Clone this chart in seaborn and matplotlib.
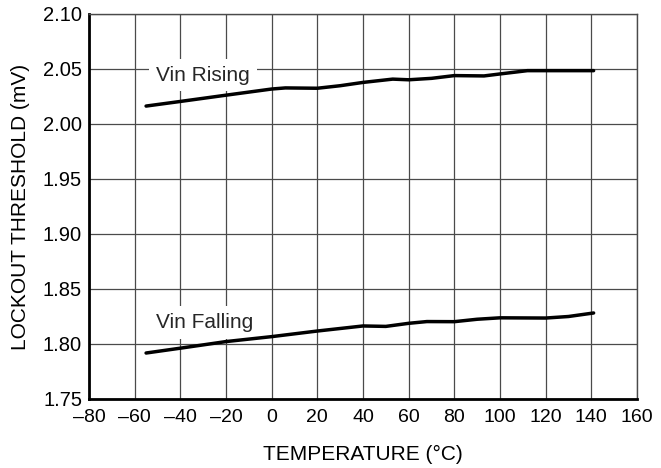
import matplotlib
matplotlib.use("Agg")
import matplotlib.pyplot as plt
import seaborn as sns
import pandas as pd

rising_temp = [-55, -40, -20, 0, 6, 20, 30, 40, 53, 60, 70, 80, 93, 100, 112, 125, 141]
rising_val = [2.0163, 2.0205, 2.0262, 2.0318, 2.0328, 2.0325, 2.0348, 2.0378, 2.0408, 2.0402, 2.0415, 2.0440, 2.0437, 2.0455, 2.0485, 2.0485, 2.0485]

falling_temp = [-55, -40, -20, 0, 20, 40, 50, 60, 68, 80, 90, 100, 120, 130, 141]
falling_val = [1.7918, 1.7962, 1.8022, 1.8067, 1.8118, 1.8164, 1.8160, 1.8188, 1.8204, 1.8203, 1.8225, 1.8238, 1.8236, 1.8250, 1.8282]

x_ticks = [-80, -60, -40, -20, 0, 20, 40, 60, 80, 100, 120, 140, 160]
y_ticks = [1.75, 1.80, 1.85, 1.90, 1.95, 2.00, 2.05, 2.10]

sns.set_theme(style="white")
plt.rcParams['font.family'] = ['Liberation Sans', 'DejaVu Sans']

fig = plt.figure(figsize=(6.61, 4.68), dpi=100)
ax = fig.add_axes([89/661, 1 - 399/468, (637-89)/661, (399-14)/468])

df_r = pd.DataFrame({"t": rising_temp, "v": rising_val})
df_f = pd.DataFrame({"t": falling_temp, "v": falling_val})
sns.lineplot(data=df_r, x="t", y="v", ax=ax, color="black", linewidth=2.5, zorder=3)
sns.lineplot(data=df_f, x="t", y="v", ax=ax, color="black", linewidth=2.5, zorder=3)

ax.set_xlim(-80, 160)
ax.set_ylim(1.75, 2.10)
ax.set_xticks(x_ticks)
ax.set_yticks(y_ticks)
ax.set_xticklabels([str(v).replace('-', '\u2013') for v in x_ticks])
ax.set_yticklabels([f"{v:.2f}" for v in y_ticks])
ax.grid(True, color="#4a4a4a", linewidth=0.9)
ax.set_axisbelow(True)
ax.tick_params(axis='x', length=0, labelsize=14, colors='black', pad=7.5)
ax.tick_params(axis='y', length=0, labelsize=14.5, colors='black', pad=5)

for s in ["left", "bottom"]:
    ax.spines[s].set_color("black")
    ax.spines[s].set_linewidth(2.0)
for s in ["top", "right"]:
    ax.spines[s].set_color("#4a4a4a")
    ax.spines[s].set_linewidth(1.0)

ax.set_xlabel("TEMPERATURE (\u00b0C)", fontsize=15, labelpad=13, color="black")
ax.set_ylabel("LOCKOUT THRESHOLD (mV)", fontsize=15, labelpad=9, color="black")

bbox = dict(facecolor="white", edgecolor="none", pad=5)
ax.text(-50.5, 2.0445, "Vin Rising", fontsize=15, va="center", ha="left", bbox=bbox, zorder=2)
ax.text(-50.5, 1.8195, "Vin Falling", fontsize=15, va="center", ha="left", bbox=bbox, zorder=2)

fig.savefig("out.png", dpi=100)
